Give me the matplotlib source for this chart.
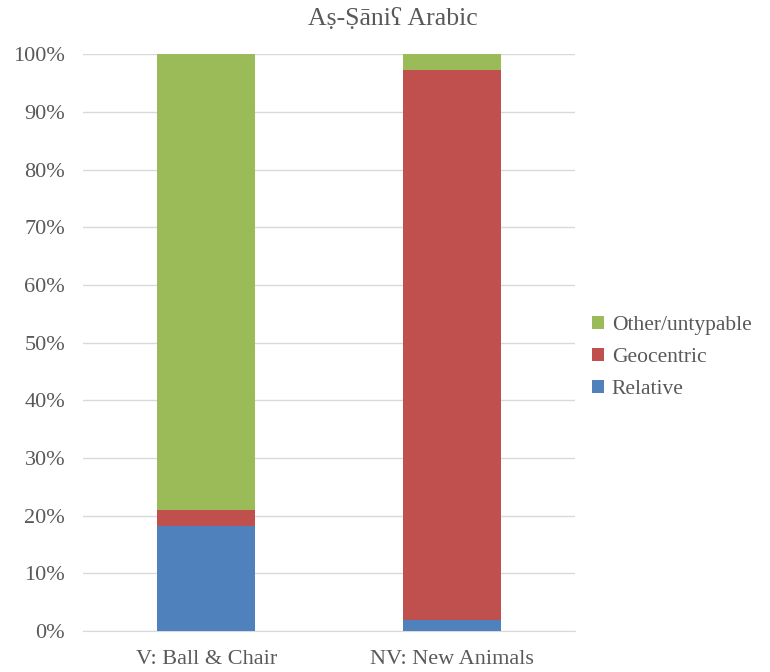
import matplotlib.pyplot as plt
import numpy as np
from matplotlib.ticker import PercentFormatter

# Share of responses per frame of reference, in percent
categories = ['V: Ball & Chair', 'NV: New Animals']
relative = [18.2, 1.9]
geocentric = [2.8, 95.4]
other = [79.0, 2.7]

series_names = ['Relative', 'Geocentric', 'Other/untypable']
series_colors = ['#4F81BD', '#C0504D', '#9BBB59']

plt.rcParams['font.family'] = ['Liberation Serif', 'DejaVu Serif']
text_grey = '#595959'

fig = plt.figure(figsize=(7.7, 6.72), dpi=100)
ax = fig.add_axes([0.108, 0.061, 0.639, 0.858])

x = np.arange(len(categories))
bottom = np.zeros(len(categories))
handles = []
for vals, name, col in zip([relative, geocentric, other], series_names, series_colors):
    b = ax.bar(x, vals, 0.4, bottom=bottom, color=col, label=name, zorder=3)
    handles.append(b)
    bottom += np.array(vals)

ax.set_xlim(-0.5, 1.5)
ax.set_ylim(0, 100)
ax.set_yticks(np.arange(0, 101, 10))
ax.yaxis.set_major_formatter(PercentFormatter(decimals=0))
ax.set_xticks(x)
ax.set_xticklabels(categories, fontsize=16)
ax.grid(axis='y', color='#D9D9D9', linewidth=1, zorder=0)
ax.tick_params(axis='both', length=0, colors=text_grey)
ax.tick_params(axis='x', pad=14)
ax.tick_params(axis='y', labelsize=16, pad=13)
for s in ['top', 'right', 'left']:
    ax.spines[s].set_visible(False)
ax.spines['bottom'].set_color('#D9D9D9')

# title sits centred on the whole figure, not just the plot area
fig.text(0.51, 0.972, 'Aṣ-Ṣāniʕ Arabic', fontsize=18.5, color=text_grey,
         ha='center', va='center')

leg = ax.legend(handles[::-1], series_names[::-1], loc='center left',
                bbox_to_anchor=(1.0, 0.475), frameon=False, fontsize=15.5,
                handlelength=0.55, handleheight=0.55, handletextpad=0.35,
                labelspacing=0.6, borderaxespad=0.4)
for t in leg.get_texts():
    t.set_color(text_grey)

fig.savefig('out.png', dpi=100)
